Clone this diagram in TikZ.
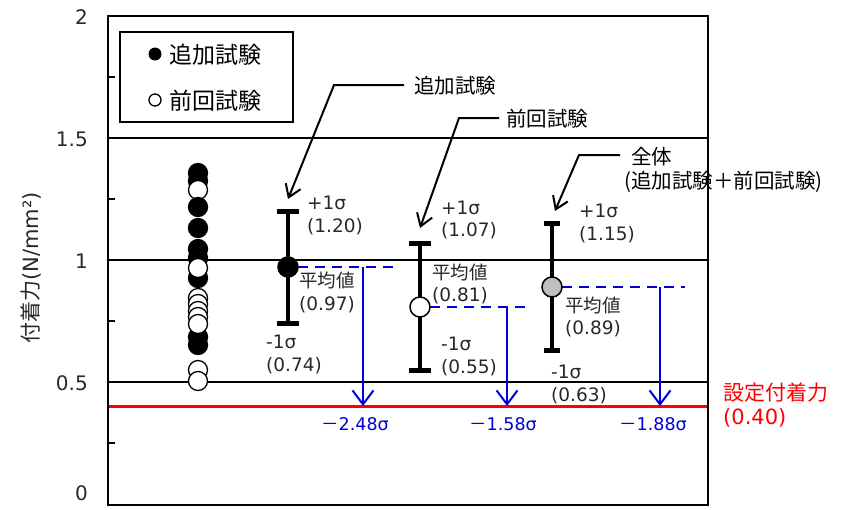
\documentclass[tikz,border=0pt]{standalone}
\usepackage{fontspec}
\setmainfont{DejaVu Sans}
\newfontfamily\jp{Noto Sans CJK JP}
\usetikzlibrary{arrows.meta}
\definecolor{txt}{RGB}{40,40,40}
\definecolor{bl}{RGB}{0,0,215}
\definecolor{gr}{RGB}{190,190,190}
\begin{document}
\begin{tikzpicture}[x=1pt,y=-1pt,
  ticklbl/.style={inner sep=0pt,anchor=east,font=\fontsize{20}{22}\selectfont,text=txt},
  lbl/.style={inner sep=0pt,anchor=west,font=\fontsize{18.5}{20}\selectfont,text=txt},
  jlbl/.style={inner sep=0pt,anchor=west,font=\jp\fontsize{18.5}{20}\selectfont,text=txt},
  ann/.style={inner sep=0pt,anchor=west,font=\jp\fontsize{20.5}{22}\selectfont,text=black},
  bluelbl/.style={inner sep=0pt,font=\fontsize{17.5}{20}\selectfont,text=bl},
  grid/.style={line width=1.5pt,black},
  dotb/.style={circle,draw=black,fill=black,line width=1.3pt,minimum size=19pt,inner sep=0pt},
  dotw/.style={circle,draw=black,fill=white,line width=1.3pt,minimum size=19pt,inner sep=0pt},
  ebar/.style={line width=3.5pt,black},
  ecap/.style={line width=5pt,black},
  bluedash/.style={line width=2pt,bl,dash pattern=on 10pt off 7pt},
  bluearr/.style={line width=2pt,bl,-{Straight Barb[length=14pt,width=21pt,line width=2pt]}},
  annarr/.style={line width=2pt,black,line join=miter,-{Straight Barb[length=12pt,width=16pt,line width=2pt]}}
]
\useasboundingbox (0,0) rectangle (850,509);

% grid lines and setting line
\draw[grid] (108,138) -- (708,138);
\draw[grid] (108,260) -- (708,260);
\draw[grid] (108,382) -- (708,382);
\draw[line width=3pt,red] (108,406) -- (708,406);
% minor ticks
\foreach \yy in {77,199,321,443} \draw[line width=2pt] (108,\yy) -- (115,\yy);
% frame
\draw[line width=2.5pt] (108,16) rectangle (708,505);

% tick labels
\node[ticklbl] (t2) at (88,17) {2};
\node[ticklbl] (t15) at (88,139) {1.5};
\node[ticklbl] (t1) at (88,261) {1};
\node[ticklbl] (t05) at (88,383) {0.5};
\node[ticklbl] (t0) at (88,493) {0};

% axis label
\node[rotate=90,inner sep=0pt,font=\fontsize{21}{23}\selectfont,text=txt] (ylab) at (31,268) {{\jp 付着力}(N/mm²)};

% legend
\draw[line width=1.5pt] (120,32) rectangle (293,122);
\node[circle,fill=black,minimum size=13pt,inner sep=0pt] (lgb) at (155,54) {};
\node[circle,draw=black,line width=1.3pt,fill=white,minimum size=12pt,inner sep=0pt] (lgw) at (155,100) {};
\node[inner sep=0pt,anchor=west,font=\jp\fontsize{23}{25}\selectfont] (lg1) at (169,55) {追加試験};
\node[inner sep=0pt,anchor=west,font=\jp\fontsize{23}{25}\selectfont] (lg2) at (169,101) {前回試験};

% data points column
\node[dotb] (p1) at (198,173) {};
\node[dotb] (p2) at (198,181) {};
\node[dotw] (p3) at (198,190) {};
\node[dotb] (p4) at (198,207) {};
\node[dotb] (p5) at (198,228) {};
\node[dotb] (p6) at (198,249) {};
\node[dotb] (p7) at (198,258) {};
\node[dotb] (p8) at (198,278) {};
\node[dotw] (p9) at (198,268) {};
\node[dotb] (p10) at (198,337) {};
\node[dotb] (p11) at (198,345) {};
\node[dotw] (p12) at (198,298) {};
\node[dotw] (p13) at (198,304) {};
\node[dotw] (p14) at (198,311) {};
\node[dotw] (p15) at (198,317) {};
\node[dotw] (p16) at (198,324) {};
\node[dotw] (p17) at (198,370) {};
\node[dotw] (p18) at (198,381) {};

% error bar A (追加試験)
\coordinate (aT) at (288,211);
\coordinate (aB) at (288,323);
\draw[ebar] (aT) -- (aB);
\draw[ecap] ([xshift=-11pt]aT) -- ([xshift=11pt]aT);
\draw[ecap] ([xshift=-11pt]aB) -- ([xshift=11pt]aB);
% error bar B (前回試験)
\coordinate (bT) at (420,243);
\coordinate (bB) at (420,370);
\draw[ebar] (bT) -- (bB);
\draw[ecap] ([xshift=-11pt]bT) -- ([xshift=11pt]bT);
\draw[ecap] ([xshift=-11pt]bB) -- ([xshift=11pt]bB);
% error bar C (全体)
\coordinate (cT) at (552,223);
\coordinate (cB) at (552,350);
\draw[ebar] (cT) -- (cB);
\draw[ecap] ([xshift=-8pt]cT) -- ([xshift=8pt]cT);
\draw[ecap] ([xshift=-8pt]cB) -- ([xshift=8pt]cB);

% blue dashed mean lines and arrows
\coordinate (aE) at (399,267);
\coordinate (aV) at (363,267);
\coordinate (aR) at (363,406);
\coordinate (bE) at (532,307);
\coordinate (bV) at (507,307);
\coordinate (bR) at (507,406);
\coordinate (cE) at (685,287);
\coordinate (cV) at (660,287);
\coordinate (cR) at (660,406);
\draw[bluedash] (298,267) -- (aE);
\draw[bluedash] (430,307) -- (bE);
\draw[bluedash] (562,287) -- (cE);
\draw[bluearr] (aV) -- (aR);
\draw[bluearr] (bV) -- (bR);
\draw[bluearr] (cV) -- (cR);

% mean markers
\node[circle,draw=black,fill=black,line width=1.5pt,minimum size=20pt,inner sep=0pt] (mA) at (288,267) {};
\node[circle,draw=black,fill=white,line width=1.5pt,minimum size=20pt,inner sep=0pt] (mB) at (420,307) {};
\node[circle,draw=black,fill=gr,line width=1.5pt,minimum size=20pt,inner sep=0pt] (mC) at (552,287) {};

% labels A
\node[lbl] (a1) at (307,203) {+1σ};
\node[lbl] (a2) at (307,227) {(1.20)};
\node[jlbl] (a3) at (299,280) {平均値};
\node[lbl] (a4) at (299,305) {(0.97)};
\node[lbl] (a5) at (266,342) {-1σ};
\node[lbl] (a6) at (266,366) {(0.74)};
% labels B
\node[lbl] (b1) at (441,208) {+1σ};
\node[lbl] (b2) at (441,231) {(1.07)};
\node[jlbl] (b3) at (432,272) {平均値};
\node[lbl] (b4) at (432,296) {(0.81)};
\node[lbl] (b5) at (441,344) {-1σ};
\node[lbl] (b6) at (441,368) {(0.55)};
% labels C
\node[lbl] (c1) at (579,211) {+1σ};
\node[lbl] (c2) at (579,235) {(1.15)};
\node[jlbl] (c3) at (565,305) {平均値};
\node[lbl] (c4) at (565,329) {(0.89)};
\node[lbl] (c5) at (551,372) {-1σ};
\node[lbl] (c6) at (551,396) {(0.63)};

% blue sigma labels
\node[bluelbl] (s1) at (355,424) {{\jp －}2.48σ};
\node[bluelbl] (s2) at (503,424) {{\jp －}1.58σ};
\node[bluelbl] (s3) at (653,424) {{\jp －}1.88σ};

% red setting label
\node[inner sep=0pt,anchor=west,font=\jp\fontsize{21}{23}\selectfont,text=red] (r1) at (723,393) {設定付着力};
\node[inner sep=0pt,anchor=west,font=\fontsize{21}{23}\selectfont,text=red] (r2) at (723,418) {(0.40)};

% annotation texts and leaders
\node[ann] (nA) at (414,86) {追加試験};
\node[ann] (nB) at (506,119) {前回試験};
\node[ann] (nC) at (631,157) {全体};
\node[ann] (nC2) at (624,182) {(追加試験＋前回試験)};
\coordinate (lA1) at (404,85);
\coordinate (lA2) at (334,85);
\coordinate (tA) at (288,199);
\coordinate (lB1) at (499,118);
\coordinate (lB2) at (459,118);
\coordinate (tB) at (420,228);
\coordinate (lC1) at (620,155);
\coordinate (lC2) at (579,155);
\coordinate (tC) at (555,211);
\draw[annarr] (lA1) -- (lA2) -- (tA);
\draw[annarr] (lB1) -- (lB2) -- (tB);
\draw[annarr] (lC1) -- (lC2) -- (tC);
\end{tikzpicture}
\end{document}
